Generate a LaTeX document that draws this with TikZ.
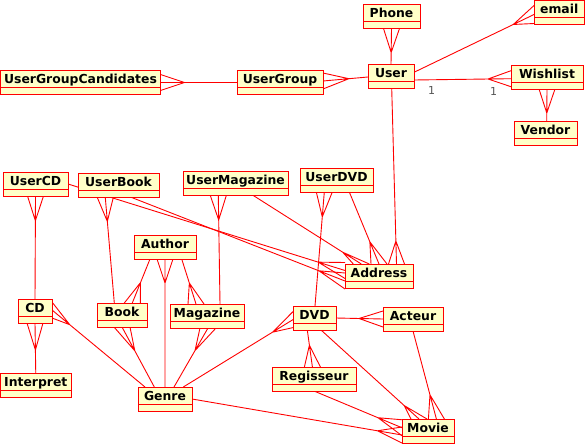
\documentclass[tikz,border=0pt]{standalone}
\usepackage{fontspec}
\newfontfamily\dejavu{DejaVu Sans}
\usetikzlibrary{calc}
\pgfdeclarelayer{background}
\pgfsetlayers{background,main}
\definecolor{umlred}{RGB}{255,0,0}
\definecolor{umlfill}{RGB}{255,255,200}
\definecolor{multgray}{RGB}{85,85,85}
\tikzset{
  umlbox/.style={rectangle, draw=umlred, fill=umlfill, line width=1pt, outer sep=0pt, inner sep=0pt, minimum height=24pt},
  umltext/.style={font=\dejavu\bfseries\fontsize{12.4}{14}\selectfont, text=black, inner sep=0pt, anchor=base},
  conn/.style={draw=umlred, line width=0.9pt},
  mult/.style={font=\dejavu\fontsize{11}{13}\selectfont, text=multgray, inner sep=0pt},
}
\newcommand\umlclass[5]{%
  \node[umlbox, minimum width={(#4-#2)*1pt}, anchor=north west] (#1) at (#2,#3) {};
  \draw[umlred, line width=1pt] ([yshift=-17pt]#1.north west) -- ([yshift=-17pt]#1.north east);
  \node[umltext] (#1-name) at ([yshift=-13pt]#1.north) {#5};
}
\newcommand\crowfoot[6]{%
  \coordinate (#1f) at #2;
  \coordinate (#1o) at #3;
  \coordinate (#1a) at ($(#1f)!#5pt!(#1o)$);
  \draw[conn] (#1o) -- (#1a) -- (#1f)
    (#1a) -- ([#4=#6pt]#1f)
    (#1a) -- ([#4=-#6pt]#1f);
}
\begin{document}
\begin{tikzpicture}[x=1pt,y=-1pt]
\useasboundingbox (0,0) rectangle (585,444);
\umlclass{phone}{363}{4.5}{420}{Phone}
\umlclass{email}{534}{0.5}{584.5}{email}
\umlclass{user}{368}{64}{414}{User}
\umlclass{ug}{237}{70.5}{323}{UserGroup}
\umlclass{ugc}{0.5}{70.5}{160.5}{UserGroupCandidates}
\umlclass{wish}{511}{65}{583}{Wishlist}
\umlclass{vendor}{514}{121}{577}{Vendor}
\umlclass{ucd}{3}{172}{68}{UserCD}
\umlclass{ubook}{78}{173.5}{159}{UserBook}
\umlclass{umag}{183}{171.5}{288}{UserMagazine}
\umlclass{udvd}{300}{168}{373}{UserDVD}
\umlclass{author}{134}{235}{196}{Author}
\umlclass{address}{345}{264}{413}{Address}
\umlclass{cd}{18}{299}{52}{CD}
\umlclass{book}{97}{303}{147}{Book}
\umlclass{magazine}{170}{304}{244}{Magazine}
\umlclass{dvd}{293}{306}{336}{DVD}
\umlclass{acteur}{383}{307}{443}{Acteur}
\umlclass{interpret}{0.5}{373}{71}{Interpret}
\umlclass{genre}{138}{387}{192}{Genre}
\umlclass{regisseur}{272}{367}{356}{Regisseur}
\umlclass{movie}{402}{419}{454}{Movie}
\node[mult] (m1) at (431.5,90) {1};
\node[mult] (m2) at (493.5,91.5) {1};
\begin{pgfonlayer}{background}
\crowfoot{c1}{(ugc.east)}{(ug.west)}{yshift}{24}{8}
\crowfoot{c2}{([yshift=1.5pt]ug.east)}{([yshift=-1pt]user.west)}{yshift}{26}{8}
\crowfoot{c3}{(phone.south)}{(user.north)}{xshift}{24}{8}
\crowfoot{c4}{([yshift=-2pt]email.west)}{([yshift=3.7pt]user.east)}{yshift}{23}{9}
\crowfoot{c5}{([yshift=-1.7pt]wish.west)}{([yshift=-4pt]user.east)}{yshift}{23}{8}
\crowfoot{c6}{(wish.south)}{([xshift=1.2pt]vendor.north)}{xshift}{24}{8}
\crowfoot{c7}{([xshift=17.5pt]address.north)}{([xshift=0.7pt]user.south)}{xshift}{23}{8}
\crowfoot{c8}{(address.north)}{([xshift=12.8pt]udvd.south)}{xshift}{24}{8}
\crowfoot{c9}{([xshift=-17.7pt]address.north)}{([xshift=17.8pt]umag.south)}{xshift}{22}{8}
\crowfoot{c10}{([yshift=5.5pt]address.west)}{(ucd.east)}{yshift}{28}{8}
\crowfoot{c11}{([yshift=-5pt]address.west)}{([xshift=13.2pt]ubook.south)}{yshift}{28}{8}
\crowfoot{c12}{(ucd.south)}{(cd.north)}{xshift}{24.7}{8}
\crowfoot{c13}{([xshift=-13.2pt]ubook.south)}{([xshift=-7.7pt]book.north)}{xshift}{24}{8}
\crowfoot{c14}{([xshift=-17.2pt]umag.south)}{([xshift=13pt]magazine.north)}{xshift}{24.5}{8}
\crowfoot{c15}{([xshift=-12.2pt]udvd.south)}{([xshift=0.5pt]dvd.north)}{xshift}{25}{8}
\crowfoot{c16}{([xshift=10.3pt]book.north)}{([xshift=-15pt]author.south)}{xshift}{22}{8}
\crowfoot{c17}{(author.south)}{(genre.north)}{xshift}{24}{8}
\crowfoot{c18}{([xshift=-11pt]magazine.north)}{([xshift=16.7pt]author.south)}{xshift}{22}{8}
\crowfoot{c19}{(cd.south)}{(interpret.north)}{xshift}{27}{8}
\crowfoot{c20}{([yshift=1pt]cd.east)}{([xshift=7pt]genre.north west)}{yshift}{23}{8}
\crowfoot{c21}{(book.south)}{([xshift=-10.7pt]genre.north)}{xshift}{27}{8}
\crowfoot{c22}{([xshift=1pt]magazine.south)}{([xshift=9pt]genre.north)}{xshift}{26}{8}
\crowfoot{c23}{([yshift=-1.6pt]dvd.west)}{([xshift=-8.7pt]genre.north east)}{yshift}{24}{8}
\crowfoot{c24}{(acteur.west)}{(dvd.east)}{yshift}{24}{8}
\crowfoot{c25}{([xshift=-1.6pt]regisseur.north)}{([xshift=-7.2pt]dvd.south)}{xshift}{22}{8}
\crowfoot{c26}{([xshift=-9pt]movie.north)}{([xshift=6.5pt]dvd.south)}{xshift}{20}{8}
\crowfoot{c27}{([xshift=8.4pt]movie.north)}{(acteur.south)}{xshift}{25}{8}
\crowfoot{c28}{([yshift=3.25pt]movie.west)}{(regisseur.south)}{yshift}{26}{8}
\crowfoot{c29}{([yshift=-4pt]movie.west)}{(genre.east)}{yshift}{25}{8}
\end{pgfonlayer}
\end{tikzpicture}
\end{document}
